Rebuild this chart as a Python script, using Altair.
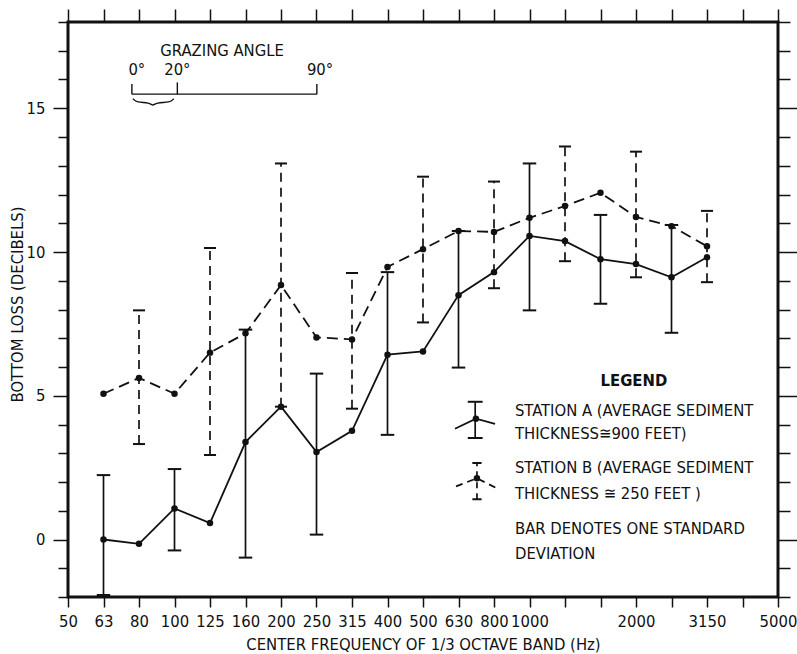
import json
import altair as alt
import pandas as pd

# ---------------- data ----------------
band_labels = ['50', '63', '80', '100', '125', '160', '200', '250', '315', '400', '500',
               '630', '800', '1000', '1250', '1600', '2000', '2500', '3150', '4000', '5000']
tick_labels = ['50', '63', '80', '100', '125', '160', '200', '250', '315', '400', '500',
               '630', '800', '1000', '', '', '2000', '', '3150', '', '5000']

freqs = ['63', '80', '100', '125', '160', '200', '250', '315', '400', '500', '630',
         '800', '1000', '1250', '1600', '2000', '2500', '3150']
a_mean = [0.0, -0.15, 1.08, 0.57, 3.39, 4.62, 3.04, 3.78, 6.43, 6.54, 8.5,
          9.3, 10.56, 10.38, 9.75, 9.58, 9.12, 9.82]
b_mean = [5.07, 5.62, 5.07, 6.5, 7.17, 8.85, 7.03, 6.96, 9.48, 10.1, 10.73,
          10.7, 11.19, 11.6, 12.06, 11.22, 10.9, 10.2]

a_err_freqs = ['63', '100', '160', '250', '400', '630', '1000', '1600', '2500']
a_err_low = [-1.93, -0.38, -0.63, 0.17, 3.64, 5.98, 7.97, 8.2, 7.19]
a_err_high = [2.24, 2.45, 7.3, 5.77, 9.3, 10.73, 13.08, 11.29, 10.94]

b_err_freqs = ['80', '125', '200', '315', '500', '800', '1250', '2000', '3150']
b_err_low = [3.32, 2.94, 4.62, 4.55, 7.55, 8.74, 9.68, 9.12, 8.95]
b_err_high = [7.97, 10.14, 13.08, 9.27, 12.62, 12.45, 13.67, 13.49, 11.43]

FONT = "DejaVu Sans Condensed, sans-serif"
INK = "#111111"
FS = 16.5

def idx(f):
    return band_labels.index(f)

# ---------------- tables ----------------
line_df = pd.DataFrame(
    [{"x": idx(f), "y": v, "s": "A"} for f, v in zip(freqs, a_mean)] +
    [{"x": idx(f), "y": v, "s": "B"} for f, v in zip(freqs, b_mean)]
)

def err_table(fs, lo, hi, half):
    rows = []
    for f, l, h in zip(fs, lo, hi):
        i = idx(f)
        rows.append({"x": i, "y": l, "y2": h, "xa": i - half, "xb": i + half})
    return pd.DataFrame(rows)

a_err = err_table(a_err_freqs, a_err_low, a_err_high, 0.19)
b_err = err_table(b_err_freqs, b_err_low, b_err_high, 0.17)

# ---------------- scales / axes ----------------
xs = alt.Scale(domain=[0, 20], nice=False, zero=False)
ys = alt.Scale(domain=[-2, 18], nice=False, zero=False)

label_expr = json.dumps(tick_labels) + "[datum.value]"

x_axis = alt.Axis(
    values=list(range(21)), labelExpr=label_expr, labelOverlap=False, labelFlush=False,
    title="CENTER FREQUENCY OF 1/3 OCTAVE BAND (Hz)", domain=False, grid=False,
    tickSize=10, tickWidth=1.5, tickColor=INK, labelFont=FONT, labelFontSize=FS,
    labelColor=INK, labelPadding=6, titleFont=FONT, titleFontSize=FS,
    titleFontWeight="normal", titleColor=INK, titleY=47, titleBaseline="middle",
)
y_axis = alt.Axis(
    values=list(range(-2, 19)),
    labelExpr="datum.value % 5 === 0 ? datum.label : ''",
    title="BOTTOM LOSS (DECIBELS)", domain=False, grid=False,
    tickSize={"condition": {"test": "datum.value % 5 === 0", "value": 15}, "value": 10},
    tickWidth=1.5, tickColor=INK, labelFont=FONT, labelFontSize=FS, labelColor=INK,
    labelPadding=8, titleFont=FONT, titleFontSize=FS, titleFontWeight="normal",
    titleColor=INK, titleX=-51, titleY=282, titleAngle=-90, titleAlign="center",
    titleBaseline="middle",
)

def X(field="x"):
    return alt.X(f"{field}:Q", scale=xs, axis=x_axis)

def Y(field="y"):
    return alt.Y(f"{field}:Q", scale=ys, axis=y_axis)

# ---------------- data layers ----------------
lines_a = alt.Chart(line_df).transform_filter("datum.s === 'A'").mark_line(
    color=INK, strokeWidth=1.8).encode(x=X(), y=Y())
lines_b = alt.Chart(line_df).transform_filter("datum.s === 'B'").mark_line(
    color=INK, strokeWidth=1.8, strokeDash=[11, 6]).encode(x=X(), y=Y())
dots = alt.Chart(line_df).mark_circle(color=INK, size=42, opacity=1).encode(x=X(), y=Y())

a_bars = alt.Chart(a_err).mark_rule(color=INK, strokeWidth=1.7).encode(
    x=X(), y=Y(), y2="y2:Q")
a_cap_lo = alt.Chart(a_err).mark_rule(color=INK, strokeWidth=2).encode(
    x=X("xa"), x2="xb:Q", y=Y())
a_cap_hi = alt.Chart(a_err).mark_rule(color=INK, strokeWidth=2).encode(
    x=X("xa"), x2="xb:Q", y=Y("y2"))

b_bars = alt.Chart(b_err).mark_rule(color=INK, strokeWidth=1.7, strokeDash=[9, 6]).encode(
    x=X(), y=Y(), y2="y2:Q")
b_cap_lo = alt.Chart(b_err).mark_rule(color=INK, strokeWidth=2).encode(
    x=X("xa"), x2="xb:Q", y=Y())
b_cap_hi = alt.Chart(b_err).mark_rule(color=INK, strokeWidth=2).encode(
    x=X("xa"), x2="xb:Q", y=Y("y2"))

# ---------------- annotations (data coordinates) ----------------
def txt(rows, **kw):
    return alt.Chart(pd.DataFrame(rows)).mark_text(
        font=FONT, fontSize=FS, color=INK, baseline="middle", **kw
    ).encode(x=X(), y=Y(), text="t:N")

graz_text = txt([{"x": 4.34, "y": 16.99, "t": "GRAZING ANGLE"},
                 {"x": 1.94, "y": 16.32, "t": "0°"},
                 {"x": 3.08, "y": 16.32, "t": "20°"},
                 {"x": 7.1, "y": 16.32, "t": "90°"}], align="center")

graz_h = alt.Chart(pd.DataFrame([{"x": 1.8, "x2": 7.01, "y": 15.49}])).mark_rule(
    color=INK, strokeWidth=1.4).encode(x=X(), x2="x2:Q", y=Y())
graz_v = alt.Chart(pd.DataFrame([
    {"x": 1.8, "y": 15.49, "y2": 15.84},
    {"x": 3.08, "y": 15.49, "y2": 15.9},
    {"x": 7.01, "y": 15.49, "y2": 15.84},
])).mark_rule(color=INK, strokeWidth=1.4).encode(x=X(), y=Y(), y2="y2:Q")
brace = alt.Chart(pd.DataFrame([
    {"x": 1.83, "y": 15.33, "o": 0}, {"x": 1.93, "y": 15.2, "o": 1},
    {"x": 2.3, "y": 15.2, "o": 2}, {"x": 2.39, "y": 15.07, "o": 3},
    {"x": 2.48, "y": 15.2, "o": 4}, {"x": 2.88, "y": 15.2, "o": 5},
    {"x": 2.98, "y": 15.33, "o": 6},
])).mark_line(color=INK, strokeWidth=1.4, interpolate="basis").encode(
    x=X(), y=Y(), order="o:Q")

legend_title = txt([{"x": 15.94, "y": 5.51, "t": "LEGEND"}], align="center",
                   fontWeight="bold")
legend_text = txt([
    {"x": 12.59, "y": 4.46, "t": "STATION A (AVERAGE SEDIMENT"},
    {"x": 12.59, "y": 3.66, "t": "THICKNESS\u2245900 FEET)"},
    {"x": 12.59, "y": 2.48, "t": "STATION B (AVERAGE SEDIMENT"},
    {"x": 12.59, "y": 1.60, "t": "THICKNESS \u2245 250 FEET )"},
    {"x": 12.59, "y": 0.38, "t": "BAR DENOTES ONE STANDARD"},
    {"x": 12.59, "y": -0.49, "t": "DEVIATION"},
], align="left")

# legend symbol A
sym_a_bar = alt.Chart(pd.DataFrame([{"x": 11.47, "y": 3.53, "y2": 4.79}])).mark_rule(
    color=INK, strokeWidth=1.7).encode(x=X(), y=Y(), y2="y2:Q")
sym_a_caps = alt.Chart(pd.DataFrame([
    {"x": 11.26, "x2": 11.68, "y": 3.53}, {"x": 11.26, "x2": 11.68, "y": 4.79}
])).mark_rule(color=INK, strokeWidth=2).encode(x=X(), x2="x2:Q", y=Y())
sym_a_line = alt.Chart(pd.DataFrame([
    {"x": 10.9, "y": 3.85, "o": 0}, {"x": 11.49, "y": 4.2, "o": 1},
    {"x": 12.03, "y": 4.02, "o": 2}
])).mark_line(color=INK, strokeWidth=1.8).encode(x=X(), y=Y(), order="o:Q")

# legend symbol B
sym_b_bar = alt.Chart(pd.DataFrame([{"x": 11.52, "y": 1.40, "y2": 2.66}])).mark_rule(
    color=INK, strokeWidth=1.7, strokeDash=[6, 5]).encode(x=X(), y=Y(), y2="y2:Q")
sym_b_caps = alt.Chart(pd.DataFrame([
    {"x": 11.39, "x2": 11.65, "y": 1.40}, {"x": 11.39, "x2": 11.65, "y": 2.66}
])).mark_rule(color=INK, strokeWidth=2).encode(x=X(), x2="x2:Q", y=Y())
sym_b_line = alt.Chart(pd.DataFrame([
    {"x": 10.93, "y": 1.85, "o": 0}, {"x": 11.52, "y": 2.13, "o": 1},
    {"x": 12.08, "y": 1.78, "o": 2}
])).mark_line(color=INK, strokeWidth=1.8, strokeDash=[7, 5]).encode(
    x=X(), y=Y(), order="o:Q")
sym_dots = alt.Chart(pd.DataFrame([{"x": 11.49, "y": 4.2}, {"x": 11.52, "y": 2.13}])
                     ).mark_circle(color=INK, size=42, opacity=1).encode(x=X(), y=Y())

main = alt.layer(
    lines_a, lines_b, a_bars, a_cap_lo, a_cap_hi, b_bars, b_cap_lo, b_cap_hi, dots,
    graz_text, graz_h, graz_v, brace, legend_title, legend_text,
    sym_a_bar, sym_a_caps, sym_a_line, sym_b_bar, sym_b_caps, sym_b_line, sym_dots,
)

# ---------------- top / right tick axes ----------------
axes_df = pd.DataFrame([{"x": 0, "y": 0}])
frame_axes = alt.Chart(axes_df).mark_point(opacity=0).encode(
    x=alt.X("x:Q", scale=xs, axis=alt.Axis(
        orient="top", values=list(range(21)), labels=False, title=None, domain=False,
        grid=False, tickSize=13, tickWidth=1.5, tickColor=INK)),
    y=alt.Y("y:Q", scale=ys, axis=alt.Axis(
        orient="right", values=list(range(-2, 19)), labels=False, title=None,
        domain=False, grid=False,
        tickSize={"condition": {"test": "datum.value % 5 === 0", "value": 20}, "value": 12},
        tickWidth=1.5, tickColor=INK)),
)

chart = alt.layer(main, frame_axes).resolve_scale(
    x="independent", y="independent"
).properties(
    width=710, height=575,
    autosize=alt.AutoSizeParams(type="none"),
    padding={"left": 68, "top": 22, "right": 19, "bottom": 57},
    background="white",
).configure_view(stroke=INK, strokeWidth=3)

chart.save("out.html", embed_options={"renderer": "svg", "actions": False})
